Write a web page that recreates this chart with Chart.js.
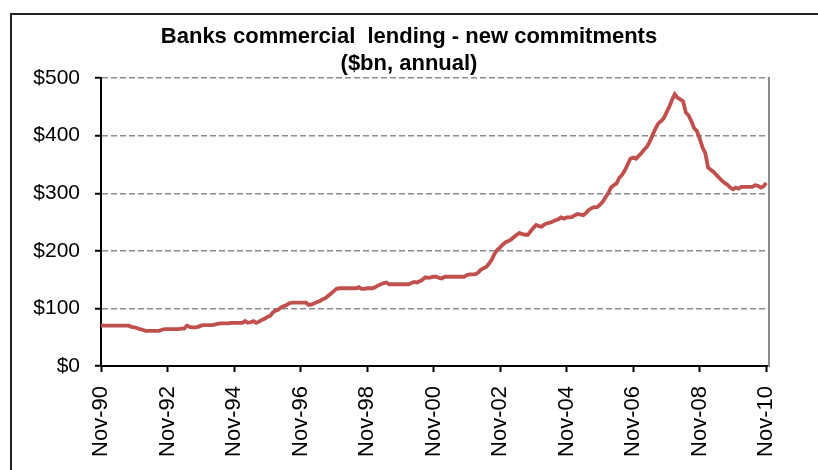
<!DOCTYPE html>
<html>
<head>
<meta charset="UTF-8" />
<title>Banks commercial lending - new commitments</title>
<script src="https://cdn.jsdelivr.net/npm/chart.js"></script>
<style>
  html, body { margin: 0; padding: 0; background: #fff; overflow: hidden; }
  .wrap { position: relative; width: 818px; height: 470px; }
  canvas { display: block; }
  /* outer box around the whole chart (open on the right and bottom) */
  .frame {
    position: absolute; left: 10px; top: 13px; right: -10px; bottom: -10px;
    border-left: 2px solid #222; border-top: 2px solid #222;
    pointer-events: none;
  }
</style>
</head>
<body>
<div class="wrap">
  <canvas id="lendingChart" width="818" height="470"></canvas>
  <div class="frame"></div>
</div>
<script>
// monthly categories, Nov-90 onwards (last one has no value)
const monthNames = ['Jan','Feb','Mar','Apr','May','Jun','Jul','Aug','Sep','Oct','Nov','Dec'];
const months = [];
for (let i = 0; i < 242; i++) {
  const m = (10 + i) % 12;
  const yy = (1990 + Math.floor((10 + i) / 12)) % 100;
  months.push(monthNames[m] + '-' + String(yy).padStart(2, '0'));
}
const labelEvery = 24;            // one x label every two years
const yTicks = [0, 100, 200, 300, 400, 500];

// new commitments, $bn annual, Nov-90 .. Nov-10
const commitments = [
  70, 70, 70, 70, 70, 70, 70, 70, 70, 70, 70, 68,
  67, 66, 64, 63, 61, 61, 61, 61, 61, 61, 63, 64,
  64, 64, 64, 64, 64, 65, 65, 70, 68, 67, 67, 68,
  70, 71, 71, 71, 71, 72, 73, 74, 74, 74, 74, 75,
  75, 75, 75, 75, 78, 75, 76, 78, 75, 77, 80, 82,
  85, 87, 93, 96, 98, 102, 104, 106, 109, 110, 110, 110,
  110, 110, 110, 106, 107, 109, 111, 113, 116, 118, 122, 126,
  130, 134, 135, 135, 135, 135, 135, 135, 135, 137, 134, 134,
  135, 135, 135, 137, 140, 142, 144, 145, 142, 142, 142, 142,
  142, 142, 142, 142, 144, 146, 145, 147, 150, 154, 153, 154,
  155, 155, 153, 152, 155, 155, 155, 155, 155, 155, 155, 155,
  158, 159, 159, 159, 162, 167, 170, 172, 178, 185, 195, 202,
  206, 211, 215, 217, 220, 224, 228, 231, 229, 228, 228, 234,
  240, 245, 243, 242, 246, 248, 249, 251, 253, 255, 258, 256,
  258, 258, 259, 262, 264, 263, 262, 266, 271, 274, 276, 276,
  280, 285, 293, 300, 310, 314, 317, 327, 332, 340, 350, 360,
  362, 360, 365, 370, 376, 381, 390, 401, 412, 421, 425, 430,
  440, 450, 462, 472, 466, 463, 460, 440, 435, 425, 413, 408,
  395, 380, 370, 345, 341, 337, 332, 327, 322, 318, 315, 310,
  307, 310, 308, 311, 311, 311, 311, 311, 314, 313, 310, 312,
  318
];

const FONT = "'Liberation Sans', Arial, Helvetica, sans-serif";

new Chart(document.getElementById('lendingChart'), {
  type: 'line',
  data: {
    labels: months,
    datasets: [{
      data: commitments,
      borderColor: '#c0504d',
      borderWidth: 3.8,
      pointRadius: 0,
      tension: 0,
      fill: false
    }]
  },
  options: {
    responsive: false,
    animation: false,
    devicePixelRatio: 1,
    layout: { padding: 0 },
    plugins: {
      legend: { display: false },
      tooltip: { enabled: false },
      title: {
        display: true,
        text: ['Banks commercial  lending - new commitments', '($bn, annual)'],
        color: '#000',
        font: { family: FONT, size: 22, weight: 'bold', lineHeight: 1.23 },
        padding: { top: 23, bottom: 1 }
      }
    },
    scales: {
      x: {
        type: 'category',
        offset: false,
        grid: {
          drawOnChartArea: false,
          tickLength: 6,
          tickWidth: 2,
          tickColor: ctx => (ctx.index % labelEvery === 0 ? '#000' : 'rgba(0,0,0,0)')
        },
        border: { color: '#000', width: 2 },
        ticks: {
          autoSkip: false,
          minRotation: 90,
          maxRotation: 90,
          padding: 14,
          color: '#000',
          font: { family: FONT, size: 22 },
          callback: function (value, index) {
            return index % labelEvery === 0 ? this.getLabelForValue(value) : '';
          }
        },
        afterFit: scale => { scale.height = 104; }
      },
      y: {
        min: 0,
        max: 500,
        afterBuildTicks: scale => { scale.ticks = yTicks.map(v => ({ value: v })); },
        grid: {
          color: '#8c8c8c',
          lineWidth: 1.5,
          tickLength: 6,
          tickWidth: 2,
          tickColor: '#000'
        },
        border: { color: '#000', width: 2, dash: [6, 3] },
        ticks: {
          padding: 15,
          color: '#000',
          font: { family: FONT, size: 21 },
          callback: v => '$' + v
        },
        afterFit: scale => { scale.width = 101; }
      },
      // bare right-hand axis: grey edge of the plot plus the right margin
      yRight: {
        position: 'right',
        min: 0,
        max: 500,
        ticks: { display: false },
        grid: { drawOnChartArea: false, drawTicks: false },
        border: { color: '#8c8c8c', width: 2 },
        afterFit: scale => { scale.width = 49; }
      }
    }
  }
});
</script>
</body>
</html>
